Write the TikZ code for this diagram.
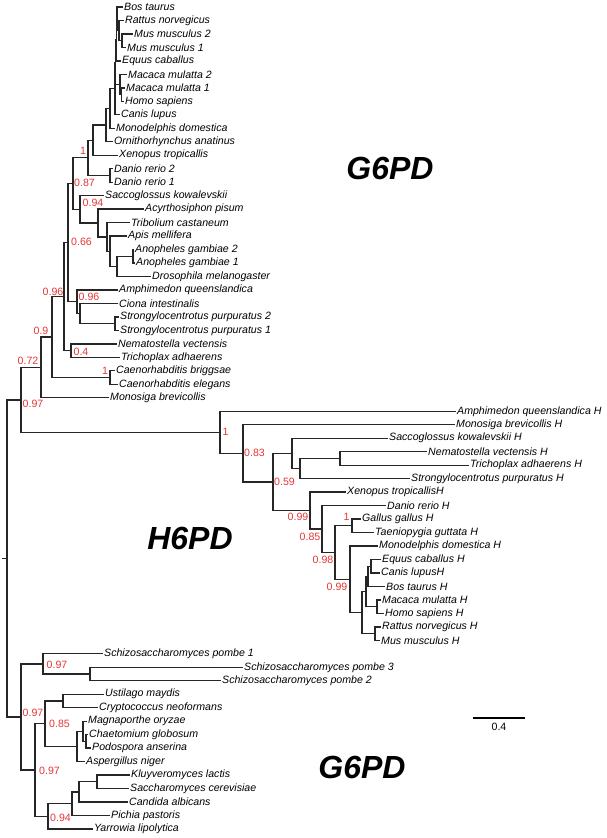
\documentclass[tikz,border=0pt]{standalone}
\usepackage{fontspec}
\newfontfamily\arialfam{Liberation Sans}
\newcommand{\leaffont}{\arialfam\itshape\fontsize{10.6}{12}\selectfont}
\newcommand{\suppfont}{\arialfam\fontsize{10.6}{12}\selectfont}
\newcommand{\cladefont}{\arialfam\bfseries\itshape\fontsize{32}{36}\selectfont}
\definecolor{supred}{RGB}{228,55,55}

\begin{document}
\begin{tikzpicture}[x=1pt,y=-1pt,
	branch/.style={line width=1.25pt, draw=black!85},
	leaf/.style={anchor=west, inner sep=1pt, font=\leaffont},
	supp/.style={text=supred, inner sep=0pt, font=\suppfont},
	clade/.style={inner sep=0pt, font=\cladefont}]
	\useasboundingbox (0,0) rectangle (606,838);
	% internal nodes of the tree
	\foreach \nm/\x/\y in {root/7/558.4, a/21/399.9, b/41/367.45, c/52/337.1,
		d/64/296.7, e/68/242.7, bil/73/183.6, vert/88/157.8, tetra/93/140.15,
		mamm/106/125.1, ther/110/108.4, eutc/115/88.5, eut/115.5/62.2,
		maeq/116.5/39.85, bosrod/117/18.8, rod/119/30.6, mus/122/40.7,
		prim/120/84.5, mh/121.5/94.6, danio/110/175.45, sacarth/80/209.35,
		arth/98/223.0, endo/107/236.9, holo/110/251.25, dipt/117/266.4,
		anoph/133/256.3, amph/77/301.8, cion/80/313.6, strong/115/323.65,
		nt/71/350.65, caeno/110/377.55,
		h/220/432.3, h2/243/453.3, h3/273/481.95, h4/292/453.35, h5/300/468.5,
		nth/340/458.45, h7/310/510.6, h8/322/529.1, h9/335/552.55,
		birds/352/525.8, h10/350/579.3, h11/362/612.55, h12/366/591.5,
		ecb/368/576.3, ec/371/566.25, mhh/377/606.65, rm/375/633.6,
		f/21/716.95, schizo/43/663.9, pombe/90/674.05, g/35/770.0,
		u/45/723.7, basid/63/700.95, asco/77/746.45, mcp/83/731.3,
		cp/86/741.4, ya/48/816.35, kscp/72/803.7, ksc/79/791.9, ks/97/781.85}
		\coordinate (\nm) at (\x,\y);
	\coordinate (stub) at (2,558.4);
	% leaves
	\foreach \nm/\x/\y/\lbl in {bos/123/7.0/Bos taurus,
		rat/124/20.5/Rattus norvegicus, mus2/133/34.0/Mus musculus 2,
		mus1/126/47.4/Mus musculus 1, equ/121/60.9/Equus caballus,
		mac2/127/74.4/Macaca mulatta 2, mac1/125/87.9/Macaca mulatta 1,
		hom/124/101.3/Homo sapiens, can/120/114.8/Canis lupus,
		mdo/115/128.3/Monodelphis domestica, oan/113/141.8/Ornithorhynchus anatinus,
		xtr/118/155.2/Xenopus tropicallis, dre2/113/168.7/Danio rerio 2,
		dre1/113/182.2/Danio rerio 1, sko/104/195.7/Saccoglossus kowalevskii,
		acy/144/209.1/Acyrthosiphon pisum, tca/130/222.6/Tribolium castaneum,
		ame/127/236.1/Apis mellifera, aga2/134/249.6/Anopheles gambiae 2,
		aga1/135/263.0/Anopheles gambiae 1, dme/151/276.5/Drosophila melanogaster,
		aqu/118/290.0/Amphimedon queenslandica, cin/118/303.5/Ciona intestinalis,
		spu2/119/316.9/Strongylocentrotus purpuratus 2,
		spu1/119/330.4/Strongylocentrotus purpuratus 1,
		nve/117/343.9/Nematostella vectensis, tad/120/357.4/Trichoplax adhaerens,
		cbr/115/370.8/Caenorhabditis briggsae, cel/118/384.3/Caenorhabditis elegans,
		mbr/109/397.8/Monosiga brevicollis,
		aquH/456/411.3/Amphimedon queenslandica H, mbrH/455/424.7/Monosiga brevicollis H,
		skoH/388/438.2/Saccoglossus kowalevskii H, nveH/427/451.7/Nematostella vectensis H,
		tadH/469/465.2/Trichoplax adhaerens H,
		spuH/410/478.6/Strongylocentrotus purpuratus H,
		xtrH/346/492.1/Xenopus tropicallisH, dreH/386/505.6/Danio rerio H,
		gga/361/519.1/Gallus gallus H, tgu/374/532.5/Taeniopygia guttata H,
		mdoH/378/546.0/Monodelphis domestica H, ecaH/381/559.5/Equus caballus H,
		cluH/380/573.0/Canis lupusH, btaH/385/586.4/Bos taurus H,
		mmuH/381/599.9/Macaca mulatta H, hsaH/384/613.4/Homo sapiens H,
		rnoH/381/626.9/Rattus norvegicus H, mmsH/380/640.3/Mus musculus H,
		spo1/103/653.8/Schizosaccharomyces pombe 1,
		spo3/243/667.3/Schizosaccharomyces pombe 3,
		spo2/221/680.8/Schizosaccharomyces pombe 2,
		uma/104/694.2/Ustilago maydis, cne/98/707.7/Cryptococcus neoformans,
		mor/87/721.2/Magnaporthe oryzae, cgl/88/734.7/Chaetomium globosum,
		pan/91/748.1/Podospora anserina, ani/85/761.6/Aspergillus niger,
		kla/130/775.1/Kluyveromyces lactis, sce/129/788.6/Saccharomyces cerevisiae,
		cal/128/802.0/Candida albicans, ppa/110/815.5/Pichia pastoris,
		yli/93/829.0/Yarrowia lipolytica}
		\node[leaf] (\nm) at (\x,\y) {\lbl};
	% branches between internal nodes
	\draw[branch] (stub) -- (root);
	\foreach \p/\c in {root/a, root/f, a/b, a/h, b/c, c/d, c/caeno, d/e, d/nt,
		e/bil, e/amph, bil/vert, bil/sacarth, vert/tetra, vert/danio,
		tetra/mamm, mamm/ther, ther/eutc, eutc/eut, eut/maeq, eut/prim,
		maeq/bosrod, bosrod/rod, rod/mus, prim/mh, sacarth/arth, arth/endo,
		endo/holo, holo/dipt, dipt/anoph, amph/cion, cion/strong,
		h/h2, h2/h3, h3/h4, h3/h7, h4/h5, h5/nth, h7/h8, h8/h9, h9/birds,
		h9/h10, h10/h11, h11/h12, h11/rm, h12/ecb, h12/mhh, ecb/ec,
		f/schizo, f/g, schizo/pombe, g/u, g/ya, u/basid, u/asco, asco/mcp,
		mcp/cp, ya/kscp, kscp/ksc, ksc/ks}
		\draw[branch] (\p) |- (\c);
	% branches to the leaves
	\foreach \p/\c in {bosrod/bos, rod/rat, mus/mus2, mus/mus1, maeq/equ,
		prim/mac2, mh/mac1, mh/hom, eutc/can, ther/mdo, mamm/oan, tetra/xtr,
		danio/dre2, danio/dre1, sacarth/sko, arth/acy, endo/tca, holo/ame,
		anoph/aga2, anoph/aga1, dipt/dme, amph/aqu, cion/cin, strong/spu2,
		strong/spu1, nt/nve, nt/tad, caeno/cbr, caeno/cel, b/mbr,
		h/aquH, h2/mbrH, h4/skoH, nth/nveH, nth/tadH, h5/spuH, h7/xtrH,
		h8/dreH, birds/gga, birds/tgu, h10/mdoH, ec/ecaH, ec/cluH, ecb/btaH,
		mhh/mmuH, mhh/hsaH, rm/rnoH, rm/mmsH,
		schizo/spo1, pombe/spo3, pombe/spo2, basid/uma, basid/cne, mcp/mor,
		cp/cgl, cp/pan, asco/ani, ks/kla, ks/sce, ksc/cal, kscp/ppa, ya/yli}
		\draw[branch] (\p) |- (\c.west);
	% support values
	\foreach \x/\y/\lbl in {83/151/1, 84.5/183/0.87, 93/203/0.94, 81.5/242/0.66,
		53/292/0.96, 89/297/0.96, 41/331/0.9, 81/352/0.4, 105/371/1,
		28/361/0.72, 33/404/0.97, 225.5/432/1, 254.5/453/0.83, 284.5/482/0.59,
		298/517/0.99, 310/537/0.85, 346.5/517/1, 323/560/0.98, 337/587/0.99,
		57/665/0.97, 33/713/0.97, 59.5/724/0.85, 49.5/771/0.97, 60.5/818/0.94}
		\node[supp] at (\x,\y) {\lbl};
	% clade names
	\node[clade] (g6top) at (390,168) {G6PD};
	\node[clade] (h6) at (190,538.5) {H6PD};
	\node[clade] (g6bot) at (362,767) {G6PD};
	% scale bar
	\coordinate (sbl) at (473,718);
	\coordinate (sbr) at (525,718);
	\draw[line width=1.3pt] (sbl) -- node[font=\suppfont, below=1pt] (sbtxt) {0.4} (sbr);
\end{tikzpicture}
\end{document}
